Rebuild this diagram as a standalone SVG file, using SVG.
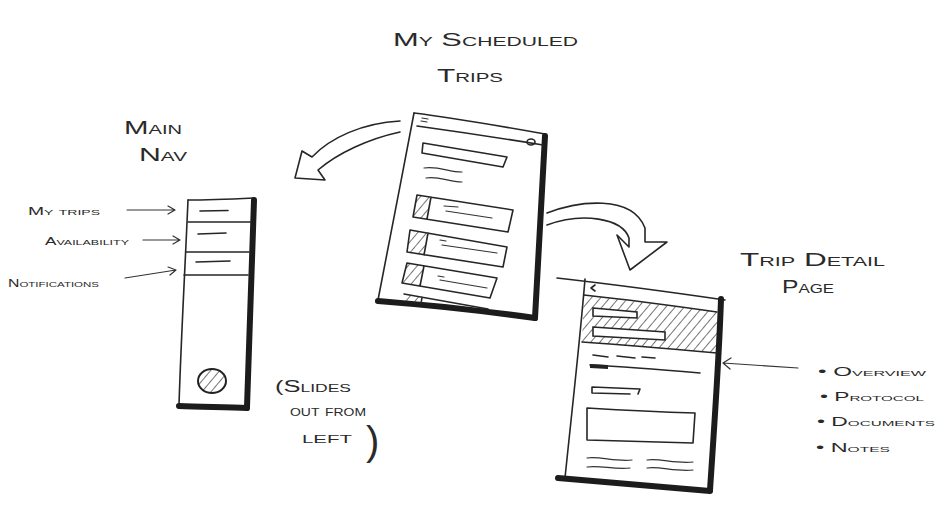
<svg xmlns="http://www.w3.org/2000/svg" width="941" height="514" viewBox="0 0 941 514">
  <defs>
    <pattern id="hatch" patternUnits="userSpaceOnUse" width="7" height="7" patternTransform="rotate(40)">
      <line x1="0" y1="0" x2="0" y2="7" stroke="#2a2a2a" stroke-width="1.3"/>
    </pattern>
    <style>
      .ink { fill: none; stroke: #262626; stroke-width: 1.6; stroke-linecap: round; stroke-linejoin: round; }
      .thin { fill: none; stroke: #333; stroke-width: 1.2; stroke-linecap: round; stroke-linejoin: round; }
      .heavy { fill: none; stroke: #1c1c1c; stroke-width: 6; stroke-linecap: round; stroke-linejoin: round; }
      .hand { font-family: "Liberation Sans", Arial, sans-serif; font-variant: small-caps; fill: #2a2a2a; }
      .big { font-size: 19px; }
      .mid { font-size: 16px; }
      .small { font-size: 11px; }
      .list { font-size: 12px; }
    </style>
  </defs>
  <rect width="941" height="514" fill="#ffffff"/>

  <!-- headings -->
  <g id="labels">
    <text class="hand big" x="393" y="46" textLength="185" lengthAdjust="spacingAndGlyphs">My Scheduled</text>
    <text class="hand big" x="437" y="82" textLength="66" lengthAdjust="spacingAndGlyphs">Trips</text>
    <text class="hand big" x="124" y="134" textLength="58" lengthAdjust="spacingAndGlyphs">Main</text>
    <text class="hand big" x="139" y="161" textLength="48" lengthAdjust="spacingAndGlyphs">Nav</text>
    <text class="hand big" x="740" y="266" textLength="145" lengthAdjust="spacingAndGlyphs">Trip Detail</text>
    <text class="hand big" x="782" y="293" textLength="52" lengthAdjust="spacingAndGlyphs">Page</text>
    <text class="hand mid" x="275" y="392" textLength="76" lengthAdjust="spacingAndGlyphs">(Slides</text>
    <text class="hand mid" x="290" y="416" textLength="76" lengthAdjust="spacingAndGlyphs">out from</text>
    <text class="hand mid" x="302" y="443"><tspan textLength="50" lengthAdjust="spacingAndGlyphs">left</tspan><tspan x="366" y="455" font-size="40" font-variant="normal" font-weight="300">)</tspan></text>
  </g>

  <!-- main navigation drawer -->
  <g id="main-nav">
    <path class="ink" d="M188 200 C 210 200, 232 199, 254 198"/>
    <path class="ink" d="M188 200 C 185 270, 181 340, 179 405"/>
    <path class="heavy" d="M254 200 C 252 270, 249 340, 247 407"/>
    <path class="heavy" d="M179 406 C 200 407, 225 407, 247 408"/>
    <path class="ink" d="M188 222 C 208 222, 230 222, 251 222"/>
    <path class="ink" d="M186 252 C 206 252, 228 252, 249 252"/>
    <path class="ink" d="M184 275 C 205 275, 226 275, 248 275"/>
    <path class="ink" d="M200 211 L 228 210.5"/>
    <path class="ink" d="M198 234 L 226 233"/>
    <path class="ink" d="M196 262 L 230 261"/>
    <ellipse cx="212" cy="381" rx="14" ry="12" fill="url(#hatch)" stroke="#222" stroke-width="2"/>
    <text class="hand small" x="28" y="215" textLength="72" lengthAdjust="spacingAndGlyphs">My trips</text>
    <text class="hand small" x="45" y="245" textLength="84" lengthAdjust="spacingAndGlyphs">Availability</text>
    <text class="hand small" x="8" y="287" textLength="91" lengthAdjust="spacingAndGlyphs">Notifications</text>
  </g>

  <!-- scheduled trips list screen -->
  <g id="trips-list">
    <path class="ink" d="M414 113 C 455 118, 500 126, 545 134"/>
    <path class="ink" d="M414 113 C 402 175, 390 240, 378 300"/>
    <path class="heavy" d="M545 136 C 542 200, 538 260, 535 318"/>
    <path class="heavy" d="M378 301 C 430 305, 485 311, 535 318"/>
    <path class="ink" d="M417 126 C 460 132, 500 138, 543 145"/>
    <path class="thin" d="M422 118 L 428 119 M421 121 L 427 122"/>
    <ellipse class="ink" cx="531" cy="142" rx="4" ry="3"/>
    <path class="ink" d="M423 143 L 507 157 L 503 167 L 422 153 Z"/>
    <path class="thin" d="M424 168 C 440 166, 448 172, 462 172 M426 178 C 440 176, 448 182, 462 182"/>
    <path fill="url(#hatch)" d="M417 195 L 431 197 L 427 219 L 413 217 Z"/>
    <path class="ink" d="M417 195 L 513 210 L 508 232 L 413 217 Z M431 197 L 427 219"/>
    <path class="thin" d="M444 206 L 458 207 M446 211 L 492 218"/>
    <path fill="url(#hatch)" d="M410 230 L 428 233 L 424 255 L 407 252 Z"/>
    <path class="ink" d="M410 230 L 507 247 L 503 267 L 407 252 Z M428 233 L 424 255"/>
    <path class="thin" d="M440 240 L 446 241 M442 245 L 497 253"/>
    <path fill="url(#hatch)" d="M407 263 L 424 266 L 420 286 L 402 283 Z"/>
    <path class="ink" d="M407 263 L 497 278 L 490 298 L 402 283 Z M424 266 L 420 286"/>
    <path class="thin" d="M438 276 L 444 277 M440 280 L 487 288"/>
    <path fill="url(#hatch)" d="M404 294 L 422 297 L 421 304 L 402 301 Z"/>
    <path class="ink" d="M404 294 L 488 309 M422 297 L 421 304"/>
  </g>

  <!-- trip detail screen -->
  <g id="trip-detail">
    <path fill="url(#hatch)" d="M584 295 L 717 312 L 717 353 L 582 342 Z"/>
    <path class="ink" d="M557 278 C 610 284, 670 292, 725 300"/>
    <path class="ink" d="M585 279 C 580 340, 572 410, 565 478"/>
    <path class="heavy" d="M721 299 C 719 360, 714 430, 710 490"/>
    <path class="heavy" d="M558 478 C 610 482, 660 487, 710 491"/>
    <path class="ink" d="M584 295 C 630 300, 675 306, 717 312"/>
    <path class="ink" d="M582 342 C 625 345, 672 349, 717 353"/>
    <path class="ink" d="M595 285 L 591 288 L 595 291"/>
    <path d="M593 308 L 637 312 L 637 318 L 593 316 Z" fill="#fff" stroke="#262626" stroke-width="1.6"/>
    <path d="M593 327 L 665 332 L 665 340 L 593 336 Z" fill="#fff" stroke="#262626" stroke-width="1.6"/>
    <path class="ink" d="M593 355 L 608 357 M617 356 L 635 358 M642 357 L 655 358"/>
    <path class="ink" d="M590 365 C 630 367, 665 370, 700 373"/>
    <path d="M590 364 L 608 365 L 608 369 L 590 368 Z" fill="#222"/>
    <path class="ink" d="M592 387 L 640 389 L 638 394 M592 387 L 592 393 L 630 394"/>
    <path class="ink" d="M587 408 C 620 410, 660 412, 695 413 L 693 443 C 660 442, 620 441, 587 440 Z"/>
    <path class="thin" d="M587 458 C 600 456, 615 462, 632 460 M587 467 C 600 465, 615 470, 630 468"/>
    <path class="thin" d="M647 460 C 660 458, 675 464, 693 462 M647 468 C 660 466, 675 472, 693 470"/>
    <text class="hand list" x="818" y="376" textLength="108" lengthAdjust="spacingAndGlyphs">• Overview</text>
    <text class="hand list" x="820" y="401" textLength="104" lengthAdjust="spacingAndGlyphs">• Protocol</text>
    <text class="hand list" x="817" y="426" textLength="118" lengthAdjust="spacingAndGlyphs">• Documents</text>
    <text class="hand list" x="816" y="452" textLength="74" lengthAdjust="spacingAndGlyphs">• Notes</text>
  </g>

  <!-- connectors -->
  <g id="connectors">
    <path class="thin" d="M127 210 L 175 210 M168 206 L 175 210 L 168 214"/>
    <path class="thin" d="M143 240 L 180 240 M173 236 L 180 240 L 173 244"/>
    <path class="thin" d="M125 278 L 176 270 M168 267 L 176 270 L 170 275"/>
    <path class="thin" d="M798 368 L 723 363 M731 358 L 723 363 L 730 369"/>
    <!-- hand-drawn block arrow toward the nav -->
    <path class="ink" d="M400 121 C 362 123, 330 138, 312 157 L 302 151 L 295 178 L 325 180 L 318 170 C 338 153, 368 139, 400 132"/>
    <!-- hand-drawn block arrow toward the detail page -->
    <path class="ink" d="M547 213 C 578 201, 632 194, 645 228 L 645 242 L 667 242 L 630 270 L 617 235 L 629 247 L 629 238 C 622 218, 582 212, 547 225"/>
  </g>
</svg>
